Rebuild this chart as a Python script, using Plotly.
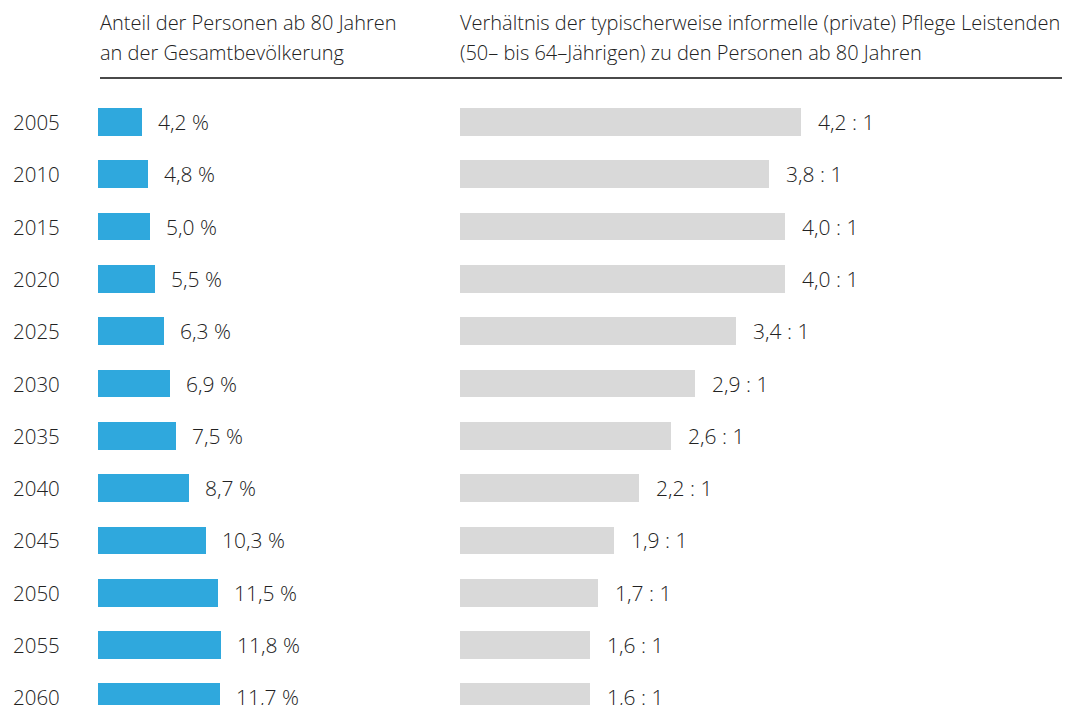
import plotly.graph_objects as go

years = ["2005", "2010", "2015", "2020", "2025", "2030", "2035", "2040", "2045", "2050", "2055", "2060"]
share_80plus = [4.2, 4.8, 5.0, 5.5, 6.3, 6.9, 7.5, 8.7, 10.3, 11.5, 11.8, 11.7]
share_labels = ["4,2 %", "4,8 %", "5,0 %", "5,5 %", "6,3 %", "6,9 %", "7,5 %", "8,7 %", "10,3 %", "11,5 %", "11,8 %", "11,7 %"]
carer_ratio = [4.2, 3.8, 4.0, 4.0, 3.4, 2.9, 2.6, 2.2, 1.9, 1.7, 1.6, 1.6]
ratio_labels = ["4,2 : 1", "3,8 : 1", "4,0 : 1", "4,0 : 1", "3,4 : 1", "2,9 : 1", "2,6 : 1", "2,2 : 1", "1,9 : 1", "1,7 : 1", "1,6 : 1", "1,6 : 1"]
header_left = ["Anteil der Personen ab 80 Jahren", "an der Gesamtbevölkerung"]
header_right = ["Verhältnis der typischerweise informelle (private) Pflege Leistenden",
                "(50– bis 64–Jährigen) zu den Personen ab 80 Jahren"]

W, H = 1067, 705
FONT = "Open Sans"
TXT = "#222222"
BLUE = "#2fa8dd"
GREY = "#d9d9d9"
WEIGHT = 300

idx = list(range(len(years)))

fig = go.Figure()
fig.add_trace(go.Bar(x=share_80plus, y=idx, orientation="h", marker=dict(color=BLUE, line=dict(width=0)),
                     width=0.53, xaxis="x", yaxis="y", hoverinfo="skip"))
fig.add_trace(go.Bar(x=carer_ratio, y=idx, orientation="h", marker=dict(color=GREY, line=dict(width=0)),
                     width=0.53, xaxis="x2", yaxis="y", hoverinfo="skip"))

# pixel mapping
L0 = 98 / W
L_px_per_unit = 10.45
L_end = 440
R0 = 460 / W
R_px_per_unit = 81.2
R_end = 1067

row0 = 122
step = 52.3
y_top = -row0 / step
y_bot = (H - row0) / step

annotations = []
for i, y in enumerate(years):
    annotations.append(dict(text=y, x=11 / W, xref="paper", y=i, yref="y", xanchor="left", yanchor="middle",
                            showarrow=False, font=dict(family=FONT, size=20.5, color=TXT, weight=WEIGHT)))
    annotations.append(dict(text=share_labels[i], x=share_80plus[i], xref="x", y=i, yref="y", xanchor="left",
                            yanchor="middle", xshift=14, showarrow=False,
                            font=dict(family=FONT, size=21, color=TXT, weight=WEIGHT)))
    annotations.append(dict(text=ratio_labels[i], x=carer_ratio[i], xref="x2", y=i, yref="y", xanchor="left",
                            yanchor="middle", xshift=15, showarrow=False,
                            font=dict(family=FONT, size=21, color=TXT, weight=WEIGHT)))

for k, line in enumerate(header_left):
    annotations.append(dict(text=line, x=98 / W, xref="paper", y=1 - (22 + 30 * k) / H, yref="paper",
                            xanchor="left", yanchor="middle", showarrow=False,
                            font=dict(family=FONT, size=20, color=TXT, weight=WEIGHT)))
for k, line in enumerate(header_right):
    annotations.append(dict(text=line, x=458 / W, xref="paper", y=1 - (22 + 30 * k) / H, yref="paper",
                            xanchor="left", yanchor="middle", showarrow=False,
                            font=dict(family=FONT, size=20, color=TXT, weight=WEIGHT)))

fig.update_layout(
    width=W, height=H,
    margin=dict(l=0, r=0, t=0, b=0),
    paper_bgcolor="white", plot_bgcolor="white",
    showlegend=False,
    bargap=0,
    xaxis=dict(domain=[L0, L_end / W], range=[0, (L_end - 98) / L_px_per_unit], visible=False, fixedrange=True),
    xaxis2=dict(domain=[R0, R_end / W], range=[0, (R_end - 460) / R_px_per_unit], visible=False, fixedrange=True),
    yaxis=dict(range=[y_bot, y_top], visible=False, fixedrange=True),
    annotations=annotations,
    shapes=[dict(type="line", xref="paper", yref="paper", x0=100 / W, x1=1062 / W,
                 y0=1 - 78 / H, y1=1 - 78 / H, line=dict(color="#4a4a4a", width=2))],
)

fig.write_html("out.html", config={"displayModeBar": False},
               post_script="document.body.style.margin='0';document.body.style.overflow='hidden';")
